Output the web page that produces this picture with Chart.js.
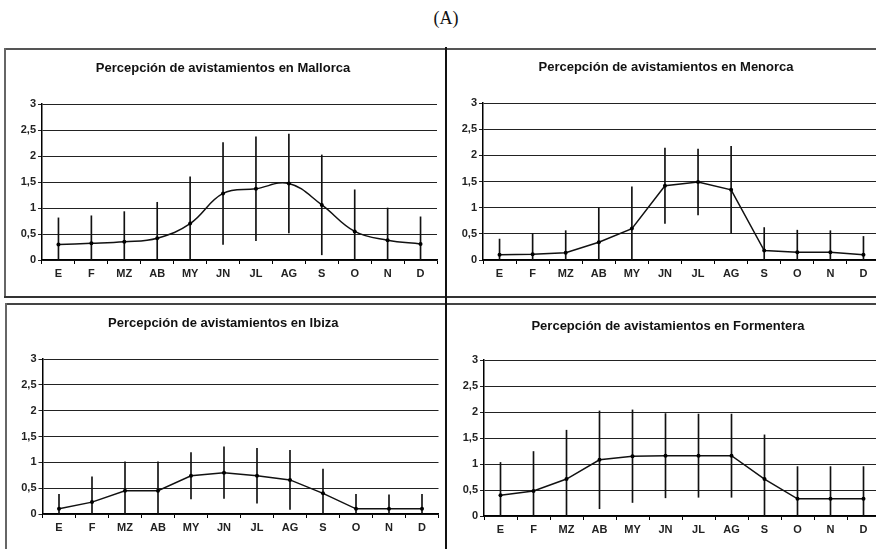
<!DOCTYPE html>
<html>
<head>
<meta charset="utf-8">
<script src="https://cdn.jsdelivr.net/npm/chart.js@4.4.0/dist/chart.umd.min.js"></script>
<style>
  body { margin: 0; width: 876px; height: 549px; overflow: hidden; background: #fff; position: relative; }
  canvas { position: absolute; }
  .ln { position: absolute; background: #333; }
  #hdr { position: absolute; top: 8px; left: 396px; width: 100px; text-align: center;
         font: 18px "Liberation Serif", serif; color: #111; }
</style>
</head>
<body>
<div id="hdr">(A)</div>
<canvas id="mallorca" width="445" height="255" style="left:0;top:40px"></canvas>
<canvas id="menorca" width="450" height="255" style="left:440px;top:40px"></canvas>
<canvas id="ibiza" width="445" height="249" style="left:0;top:300px"></canvas>
<canvas id="formentera" width="450" height="249" style="left:440px;top:300px"></canvas>

<!-- panel frames -->
<div class="ln" style="left:4px;top:48px;width:872px;height:1.5px;background:#555"></div>
<div class="ln" style="left:4px;top:48px;width:1.5px;height:249px;background:#666"></div>
<div class="ln" style="left:4px;top:296px;width:872px;height:2px"></div>
<div class="ln" style="left:5px;top:303px;width:871px;height:2px;background:#444"></div>
<div class="ln" style="left:5px;top:303px;width:1.5px;height:246px;background:#666"></div>
<div class="ln" style="left:445px;top:47px;width:2px;height:502px;background:#111"></div>

<script>
const months = ['E', 'F', 'MZ', 'AB', 'MY', 'JN', 'JL', 'AG', 'S', 'O', 'N', 'D'];
const yTicks = [0, 0.5, 1, 1.5, 2, 2.5, 3];

const mallorcaMean = [0.30, 0.32, 0.35, 0.42, 0.70, 1.28, 1.37, 1.47, 1.06, 0.55, 0.38, 0.31];
const mallorcaErr  = [0.51, 0.53, 0.58, 0.69, 0.90, 0.98, 1.00, 0.95, 0.96, 0.80, 0.62, 0.52];

const menorcaMean = [0.10, 0.11, 0.14, 0.34, 0.60, 1.42, 1.49, 1.34, 0.18, 0.15, 0.15, 0.10];
const menorcaErr  = [0.30, 0.40, 0.42, 0.66, 0.80, 0.72, 0.63, 0.83, 0.44, 0.42, 0.41, 0.35];

const ibizaMean = [0.10, 0.23, 0.45, 0.45, 0.74, 0.80, 0.74, 0.66, 0.40, 0.10, 0.10, 0.10];
const ibizaErr  = [0.28, 0.49, 0.56, 0.56, 0.45, 0.50, 0.53, 0.57, 0.47, 0.28, 0.27, 0.28];

const formenteraMean = [0.40, 0.48, 0.71, 1.08, 1.15, 1.16, 1.16, 1.16, 0.71, 0.33, 0.33, 0.33];
const formenteraErr  = [0.63, 0.76, 0.94, 0.94, 0.89, 0.81, 0.80, 0.80, 0.85, 0.62, 0.62, 0.62];

const FONT = '"Liberation Sans", Arial, sans-serif';

function makeChart(id, title, mean, err, o) {
  // error bars as thin floating bars, clipped at 0
  const bars = mean.map((v, i) => [Math.max(0, v - err[i]), v + err[i]]);
  new Chart(document.getElementById(id), {
    type: 'bar',
    data: {
      labels: months,
      datasets: [
        { type: 'line', data: mean, borderColor: '#111', borderWidth: 1.5,
          pointRadius: 2, pointBackgroundColor: '#000', pointBorderWidth: 0,
          tension: o.tension || 0, order: 0 },
        { type: 'bar', data: bars, backgroundColor: '#111',
          barThickness: 1, borderWidth: 0, order: 1 }
      ]
    },
    options: {
      responsive: false,
      animation: false,
      layout: { padding: { left: o.padL, right: o.right, top: 0, bottom: o.bottom } },
      plugins: {
        legend: { display: false },
        tooltip: { enabled: false },
        title: { display: true, text: title, color: '#111',
                 font: { family: FONT, size: 13, weight: 'bold' },
                 padding: { top: o.tTop, bottom: o.tBottom } }
      },
      scales: {
        x: {
          offset: true,
          grid: { offset: true, drawOnChartArea: false, color: '#000', tickLength: 4 },
          border: { color: '#000', width: 1.5 },
          ticks: { color: '#222', padding: 3, font: { family: FONT, size: 11, weight: 'bold' } },
          afterFit: s => { s.height = 30; }
        },
        y: {
          min: 0, max: 3,
          afterBuildTicks: s => { s.ticks = yTicks.map(v => ({ value: v })); },
          grid: { color: '#222', lineWidth: 1, tickLength: 4 },
          border: { color: '#000', width: 1.5 },
          ticks: { color: '#222', padding: 2, font: { family: FONT, size: 11, weight: 'bold' },
                   callback: v => String(v).replace('.', ',') },
          afterFit: s => { s.width = o.yW; }
        }
      }
    }
  });
}

makeChart('mallorca', 'Percepción de avistamientos en Mallorca', mallorcaMean, mallorcaErr,
  { padL: 9, yW: 33, right: 8, bottom: 5, tTop: 20.2, tBottom: 28.2, tension: 0.4 });
makeChart('menorca', 'Percepción de avistamientos en Menorca', menorcaMean, menorcaErr,
  { padL: 12, yW: 31, right: 10, bottom: 5, tTop: 19.2, tBottom: 28.2 });
makeChart('ibiza', 'Percepción de avistamientos en Ibiza', ibizaMean, ibizaErr,
  { padL: 8, yW: 34.5, right: 6.5, bottom: 5, tTop: 15.2, tBottom: 28.2 });
makeChart('formentera', 'Percepción de avistamientos en Formentera', formenteraMean, formenteraErr,
  { padL: 16, yW: 28, right: 10, bottom: 3, tTop: 18.2, tBottom: 26.2 });
</script>
</body>
</html>
